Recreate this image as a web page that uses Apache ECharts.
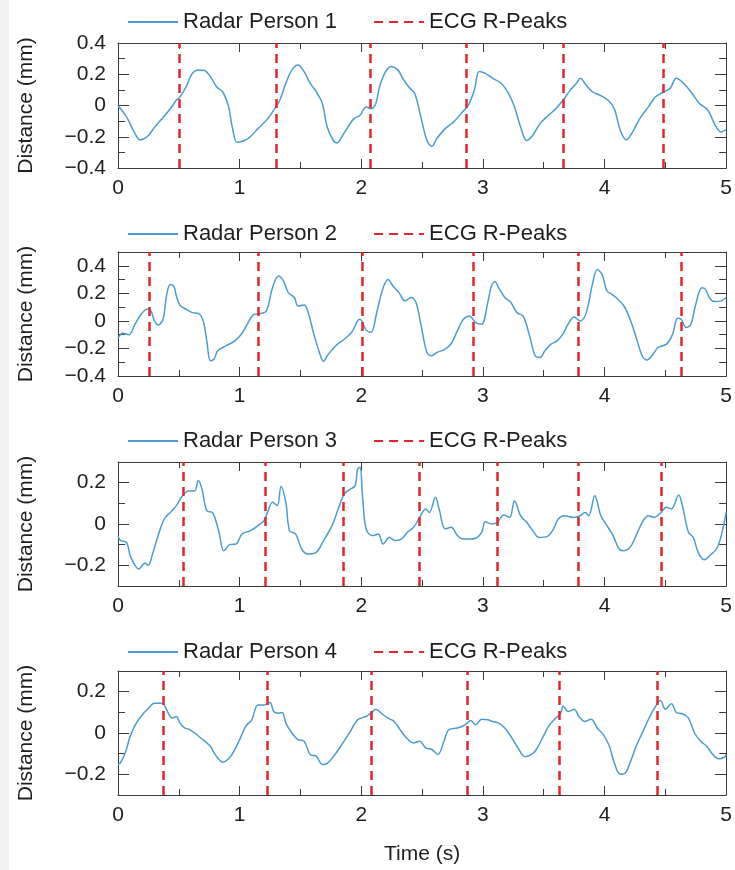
<!DOCTYPE html>
<html>
<head>
<meta charset="utf-8">
<script src="https://cdn.jsdelivr.net/npm/echarts@6/dist/echarts.min.js"></script>
<style>
  html, body { margin: 0; padding: 0; background: #ffffff; }
  #chart { width: 735px; height: 870px; }
</style>
</head>
<body>
<div id="chart"></div>
<script>
// ---- data -------------------------------------------------------------
const timeTicks = [0, 1, 2, 3, 4, 5];
const personNames = ['Radar Person 1', 'Radar Person 2', 'Radar Person 3', 'Radar Person 4'];
const ecgName = 'ECG R-Peaks';

// chest displacement (s, mm)
const radar1 = [
  [0,0.00],[0.07,-0.073],[0.14,-0.18],[0.18,-0.22],[0.24,-0.20],[0.30,-0.14],[0.35,-0.095],[0.40,-0.05],
  [0.45,0.00],[0.48,0.035],[0.51,0.055],[0.56,0.12],[0.61,0.205],[0.66,0.228],[0.71,0.224],[0.76,0.185],
  [0.81,0.12],[0.86,0.088],[0.91,-0.01],[0.94,-0.14],[0.98,-0.235],[1.04,-0.224],[1.09,-0.198],[1.15,-0.148],
  [1.22,-0.095],[1.28,-0.03],[1.33,0.034],[1.38,0.142],[1.43,0.228],[1.48,0.26],[1.53,0.217],[1.58,0.142],
  [1.63,0.088],[1.68,0.013],[1.72,-0.138],[1.77,-0.224],[1.80,-0.24],[1.84,-0.20],[1.89,-0.138],[1.94,-0.084],
  [1.99,-0.062],[2.04,-0.009],[2.08,-0.02],[2.12,0.013],[2.15,0.12],[2.20,0.217],[2.25,0.25],[2.30,0.228],
  [2.35,0.163],[2.40,0.11],[2.44,0.077],[2.49,-0.073],[2.54,-0.224],[2.58,-0.262],[2.62,-0.213],[2.69,-0.148],
  [2.76,-0.105],[2.82,-0.052],[2.88,0.002],[2.93,0.10],[2.97,0.217],[3.02,0.206],[3.08,0.174],[3.15,0.142],
  [3.21,0.077],[3.26,-0.009],[3.31,-0.138],[3.36,-0.224],[3.41,-0.19],[3.47,-0.116],[3.54,-0.062],[3.60,-0.02],
  [3.67,0.045],[3.72,0.10],[3.77,0.142],[3.80,0.174],[3.85,0.13],[3.90,0.088],[3.96,0.067],[4.03,0.034],
  [4.08,-0.02],[4.13,-0.16],[4.18,-0.22],[4.23,-0.17],[4.29,-0.084],[4.36,-0.009],[4.42,0.056],[4.49,0.088],
  [4.54,0.11],[4.59,0.174],[4.65,0.142],[4.72,0.077],[4.78,0.013],[4.85,-0.03],[4.91,-0.127],[4.96,-0.17],
  [5.0,-0.155]
];
const radar2 = [
  [0,-0.125],[0.04,-0.09],[0.09,-0.10],[0.14,-0.024],[0.19,0.048],[0.24,0.084],[0.27,0.072],[0.30,0.0],
  [0.33,-0.03],[0.37,0.012],[0.40,0.19],[0.43,0.265],[0.46,0.25],[0.48,0.18],[0.51,0.113],[0.56,0.084],
  [0.61,0.06],[0.66,0.055],[0.70,0.0],[0.73,-0.145],[0.76,-0.29],[0.79,-0.277],[0.82,-0.217],[0.89,-0.18],
  [0.96,-0.145],[1.02,-0.09],[1.07,-0.012],[1.12,0.048],[1.17,0.053],[1.22,0.072],[1.27,0.24],[1.32,0.325],
  [1.36,0.29],[1.40,0.205],[1.45,0.17],[1.48,0.108],[1.53,0.116],[1.56,0.072],[1.61,-0.096],[1.66,-0.24],
  [1.69,-0.294],[1.72,-0.253],[1.79,-0.18],[1.86,-0.133],[1.92,-0.084],[1.97,0.0],[1.99,0.012],[2.04,-0.067],
  [2.08,-0.084],[2.13,0.072],[2.18,0.24],[2.22,0.30],[2.26,0.253],[2.31,0.205],[2.36,0.145],[2.41,0.17],
  [2.45,0.133],[2.49,-0.024],[2.54,-0.23],[2.58,-0.253],[2.62,-0.23],[2.69,-0.205],[2.74,-0.164],[2.79,-0.072],
  [2.84,0.012],[2.89,0.036],[2.94,-0.012],[2.99,-0.024],[3.04,0.133],[3.07,0.253],[3.10,0.284],[3.13,0.24],
  [3.18,0.17],[3.23,0.133],[3.28,0.06],[3.33,0.036],[3.38,-0.096],[3.43,-0.253],[3.47,-0.265],[3.51,-0.217],
  [3.56,-0.169],[3.61,-0.145],[3.66,-0.092],[3.70,-0.024],[3.75,0.029],[3.80,0.0],[3.85,0.06],[3.90,0.265],
  [3.94,0.373],[3.98,0.337],[4.02,0.217],[4.06,0.193],[4.11,0.157],[4.16,0.108],[4.21,0.012],[4.26,-0.12],
  [4.31,-0.253],[4.35,-0.284],[4.39,-0.253],[4.44,-0.193],[4.51,-0.169],[4.56,-0.096],[4.60,0.019],[4.63,0.012],
  [4.67,-0.048],[4.71,-0.024],[4.75,0.12],[4.80,0.24],[4.83,0.229],[4.87,0.157],[4.91,0.14],[4.96,0.145],
  [5.0,0.17]
];
const radar3 = [
  [0,-0.056],[0.02,-0.08],[0.07,-0.089],[0.10,-0.153],[0.14,-0.20],[0.17,-0.218],[0.22,-0.19],[0.25,-0.20],
  [0.28,-0.153],[0.33,-0.056],[0.38,0.024],[0.43,0.056],[0.48,0.089],[0.53,0.137],[0.58,0.16],[0.63,0.16],
  [0.66,0.21],[0.69,0.17],[0.73,0.065],[0.78,0.053],[0.83,-0.04],[0.87,-0.13],[0.92,-0.10],[0.97,-0.097],
  [1.02,-0.048],[1.09,-0.032],[1.15,-0.008],[1.20,0.016],[1.23,0.056],[1.27,0.105],[1.31,0.089],[1.34,0.182],
  [1.38,0.105],[1.41,-0.032],[1.46,-0.048],[1.51,-0.121],[1.56,-0.145],[1.63,-0.137],[1.69,-0.08],[1.76,-0.008],
  [1.81,0.073],[1.86,0.145],[1.91,0.169],[1.95,0.185],[1.97,0.266],[1.99,0.274],[2.01,0.137],[2.04,-0.024],
  [2.09,-0.056],[2.14,-0.048],[2.18,-0.097],[2.23,-0.065],[2.28,-0.08],[2.33,-0.073],[2.38,-0.04],[2.43,-0.016],
  [2.48,0.032],[2.53,0.073],[2.56,0.056],[2.61,0.129],[2.64,0.073],[2.69,-0.024],[2.74,-0.016],[2.79,-0.056],
  [2.84,-0.073],[2.89,-0.073],[2.94,-0.069],[2.99,-0.04],[3.02,0.011],[3.07,0.0],[3.12,0.008],[3.17,0.044],
  [3.22,0.032],[3.26,0.113],[3.31,0.04],[3.36,0.008],[3.41,-0.032],[3.46,-0.065],[3.53,-0.06],[3.58,-0.024],
  [3.62,0.024],[3.67,0.04],[3.74,0.032],[3.80,0.04],[3.84,0.056],[3.87,0.04],[3.92,0.137],[3.97,0.04],
  [4.02,-0.008],[4.07,-0.056],[4.12,-0.121],[4.16,-0.129],[4.21,-0.113],[4.26,-0.056],[4.31,0.008],[4.36,0.04],
  [4.41,0.032],[4.46,0.053],[4.51,0.081],[4.55,0.073],[4.61,0.14],[4.64,0.089],[4.69,-0.04],[4.73,-0.065],
  [4.77,-0.137],[4.82,-0.173],[4.87,-0.15],[4.92,-0.121],[4.96,-0.056],[5.0,0.056]
];
const radar4 = [
  [0,-0.152],[0.02,-0.144],[0.06,-0.096],[0.10,-0.016],[0.15,0.048],[0.20,0.088],[0.25,0.12],[0.30,0.144],
  [0.35,0.144],[0.38,0.136],[0.42,0.088],[0.45,0.072],[0.48,0.08],[0.51,0.048],[0.55,0.024],[0.58,0.019],
  [0.63,0.0],[0.68,-0.024],[0.73,-0.048],[0.76,-0.064],[0.79,-0.096],[0.83,-0.128],[0.86,-0.141],[0.91,-0.125],
  [0.96,-0.08],[1.00,-0.032],[1.05,0.032],[1.10,0.064],[1.15,0.136],[1.20,0.136],[1.25,0.147],[1.28,0.104],
  [1.32,0.096],[1.35,0.099],[1.38,0.048],[1.43,0.0],[1.48,-0.032],[1.53,-0.04],[1.58,-0.104],[1.63,-0.112],
  [1.68,-0.152],[1.72,-0.147],[1.77,-0.115],[1.84,-0.056],[1.91,0.008],[1.97,0.064],[2.04,0.08],[2.08,0.096],
  [2.12,0.115],[2.17,0.093],[2.22,0.072],[2.27,0.056],[2.32,0.016],[2.36,-0.016],[2.43,-0.048],[2.48,-0.04],
  [2.53,-0.072],[2.58,-0.08],[2.63,-0.104],[2.68,-0.04],[2.72,0.016],[2.79,0.024],[2.84,0.035],[2.87,0.048],
  [2.90,0.061],[2.94,0.04],[2.99,0.067],[3.04,0.064],[3.08,0.056],[3.13,0.048],[3.18,0.024],[3.23,-0.016],
  [3.28,-0.064],[3.35,-0.115],[3.40,-0.104],[3.44,-0.08],[3.49,-0.024],[3.54,0.032],[3.59,0.067],[3.64,0.096],
  [3.66,0.131],[3.70,0.104],[3.75,0.115],[3.79,0.08],[3.84,0.056],[3.89,0.067],[3.94,0.024],[3.99,-0.008],
  [4.04,-0.064],[4.08,-0.144],[4.13,-0.20],[4.17,-0.195],[4.21,-0.144],[4.26,-0.064],[4.31,0.0],[4.36,0.064],
  [4.41,0.12],[4.46,0.157],[4.50,0.115],[4.55,0.141],[4.59,0.099],[4.64,0.093],[4.69,0.072],[4.74,0.0],
  [4.79,-0.04],[4.84,-0.064],[4.89,-0.104],[4.94,-0.125],[4.99,-0.115],[5.0,-0.104]
];
const radarSeries = [radar1, radar2, radar3, radar4];

// ECG R-peak instants (s)
const ecgPeaks1 = [0.50, 1.30, 2.07, 2.86, 3.66, 4.48];
const ecgPeaks2 = [0.26, 1.15, 2.01, 2.92, 3.78, 4.63];
const ecgPeaks3 = [0.54, 1.21, 1.85, 2.48, 3.12, 3.78, 4.47];
const ecgPeaks4 = [0.37, 1.23, 2.08, 2.87, 3.63, 4.43];
const ecgSeries = [ecgPeaks1, ecgPeaks2, ecgPeaks3, ecgPeaks4];

// y axis extents and labelled ticks (mm)
const yRanges = [[-0.4, 0.4], [-0.4, 0.5], [-0.3, 0.3], [-0.3, 0.3]];
const yLabelValues = [
  [-0.4, -0.2, 0, 0.2, 0.4],
  [-0.4, -0.2, 0, 0.2, 0.4],
  [-0.2, 0, 0.2],
  [-0.2, 0, 0.2]
];

// ---- layout & style ---------------------------------------------------
const gridTops = [43, 252, 462, 671];
const gridHeights = [125, 124, 124, 124];
const legendTops = [11, 223, 430, 641];
const FONT = '"Liberation Sans", Arial, Helvetica, sans-serif';
const AXIS = '#3a3a3a';
const TEXT = '#1e1e1e';
const BLUE = '#4b9ccf';
const RED = '#e3252c';
const TICK_FONT = 21;
const LEGEND_FONT = 22;

function fmtY(v, i) {
  const hit = yLabelValues[i].some(l => Math.abs(l - v) < 1e-6);
  if (!hit) return '';
  if (Math.abs(v) < 1e-6) return '0';
  return (v < 0 ? '\u22120' : '0') + '.' + String(Math.round(Math.abs(v) * 10));
}

const grids = [], xAxes = [], yAxes = [], series = [], legends = [];
const tickLine = { color: AXIS, width: 1 };

for (let i = 0; i < 4; i++) {
  grids.push({ left: 118, right: 5, top: gridTops[i], height: gridHeights[i], containLabel: false });

  const xBase = {
    type: 'value', gridIndex: i, min: timeTicks[0], max: timeTicks[timeTicks.length - 1], interval: 1,
    splitLine: { show: false },
    axisLine: { show: true, onZero: false, lineStyle: tickLine },
    axisTick: { show: true, inside: true, length: 9, lineStyle: tickLine },
    minorTick: { show: true, splitNumber: 2, length: 6, lineStyle: tickLine }
  };
  xAxes.push(Object.assign({}, xBase, {
    position: 'bottom',
    axisLabel: { show: true, margin: 10, fontSize: TICK_FONT, color: TEXT, fontFamily: FONT },
    name: i === 3 ? 'Time (s)' : '',
    nameLocation: 'middle', nameGap: 49,
    nameTextStyle: { fontSize: TICK_FONT, color: TEXT, fontFamily: FONT }
  }));
  xAxes.push(Object.assign({}, xBase, { position: 'top', axisLabel: { show: false } }));

  const yBase = {
    type: 'value', gridIndex: i, min: yRanges[i][0], max: yRanges[i][1], interval: 0.1,
    splitLine: { show: false }
  };
  yAxes.push(Object.assign({}, yBase, {
    position: 'left',
    axisLine: { show: true, onZero: false, lineStyle: tickLine },
    axisTick: { show: true, inside: true, length: 7, lineStyle: tickLine },
    axisLabel: { show: true, margin: 12, fontSize: TICK_FONT, color: TEXT, fontFamily: FONT,
                 formatter: (v) => fmtY(v, i) },
    name: 'Distance (mm)', nameLocation: 'middle', nameGap: 81,
    nameTextStyle: { fontSize: TICK_FONT, color: TEXT, fontFamily: FONT }
  }));
  yAxes.push(Object.assign({}, yBase, {
    position: 'left',
    axisLine: { show: false, onZero: false },
    axisTick: { show: true, inside: true, length: 11, customValues: yLabelValues[i], lineStyle: tickLine },
    axisLabel: { show: false }
  }));
  yAxes.push(Object.assign({}, yBase, {
    position: 'right',
    axisLine: { show: true, onZero: false, lineStyle: tickLine },
    axisTick: { show: true, inside: true, length: 7, lineStyle: tickLine },
    axisLabel: { show: false }
  }));
  yAxes.push(Object.assign({}, yBase, {
    position: 'right',
    axisLine: { show: false, onZero: false },
    axisTick: { show: true, inside: true, length: 11, customValues: yLabelValues[i], lineStyle: tickLine },
    axisLabel: { show: false }
  }));

  series.push({
    name: personNames[i], type: 'line', xAxisIndex: 2 * i, yAxisIndex: 4 * i,
    data: radarSeries[i], symbol: 'none', showSymbol: false, smooth: 0.35,
    lineStyle: { color: BLUE, width: 1.5 }, itemStyle: { color: BLUE }, z: 3
  });
  series.push({
    name: ecgName, type: 'line', xAxisIndex: 2 * i, yAxisIndex: 4 * i,
    data: [], symbol: 'none',
    lineStyle: { color: RED, width: 2.5, type: [9, 6] }, itemStyle: { color: RED },
    markLine: {
      silent: true, symbol: ['none', 'none'], label: { show: false }, animation: false,
      lineStyle: { color: RED, width: 2.5, type: [9, 6] },
      emphasis: { disabled: true },
      data: ecgSeries[i].map(t => ({ xAxis: t }))
    },
    z: 4
  });

  legends.push({
    data: [personNames[i], ecgName], left: 127, top: legendTops[i], padding: 0,
    itemWidth: 50, itemHeight: 14, itemGap: 36, selectedMode: false,
    itemStyle: { color: 'rgba(0,0,0,0)', borderColor: 'rgba(0,0,0,0)', borderWidth: 0, opacity: 0 },
    textStyle: { fontSize: LEGEND_FONT, color: TEXT, fontFamily: FONT }
  });
}

const chart = echarts.init(document.getElementById('chart'), null, { renderer: 'canvas' });
chart.setOption({
  backgroundColor: '#ffffff',
  animation: false,
  graphic: [{ type: 'rect', left: 0, top: 0, shape: { width: 9, height: 870 }, style: { fill: '#f1f1f1' }, silent: true }],
  legend: legends,
  grid: grids,
  xAxis: xAxes,
  yAxis: yAxes,
  series: series
});
</script>
</body>
</html>
